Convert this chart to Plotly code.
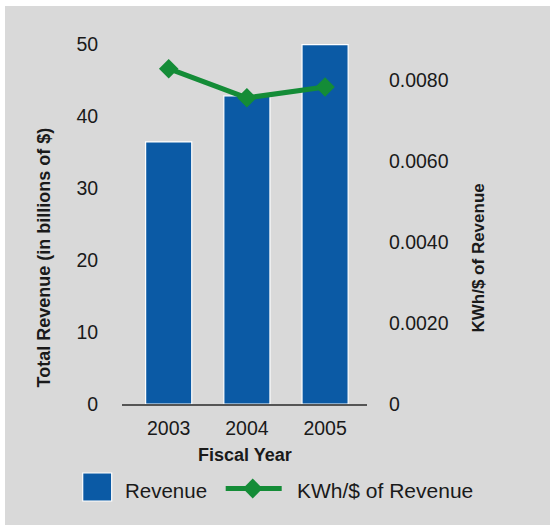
import plotly.graph_objects as go

# ---- data ----
years = ["2003", "2004", "2005"]
revenue = [36.4, 42.8, 49.9]            # billions of $
kwh_per_dollar = [0.00828, 0.00756, 0.00783]

left_ticks = [0, 10, 20, 30, 40, 50]
right_ticks = [0, 0.002, 0.004, 0.006, 0.008]
right_ticktext = ["0", "0.0020", "0.0040", "0.0060", "0.0080"]

BLUE = "#0b5aa5"
GREEN = "#148c37"
BG = "#d9d9d9"
TXT = "#1a1a1a"
FONT = "Liberation Sans, Arial, sans-serif"

W, H = 550, 527
L, R, T, B = 122, 367, 44, 404   # plot area in pixels


def px(xpix):
    return (xpix - L) / (R - L)


def py(ypix):
    return (B - ypix) / (B - T)


fig = go.Figure()
fig.add_trace(go.Bar(
    x=years, y=revenue, name="Revenue",
    marker=dict(color=BLUE, line=dict(color="white", width=1.2)),
    showlegend=False,
))
fig.add_trace(go.Scatter(
    x=years, y=kwh_per_dollar, name="KWh/$ of Revenue", yaxis="y2",
    mode="lines+markers",
    line=dict(color=GREEN, width=5),
    marker=dict(symbol="diamond", size=15, color=GREEN),
    showlegend=False,
))

shapes = [
    # grey panel
    dict(type="rect", xref="paper", yref="paper", layer="below",
         x0=px(5), x1=px(551), y0=py(525), y1=py(6),
         fillcolor=BG, line=dict(width=0)),
    # legend: revenue square
    dict(type="rect", xref="paper", yref="paper",
         x0=px(82.7), x1=px(111.7), y0=py(501), y1=py(473),
         fillcolor=BLUE, line=dict(color="white", width=1.2)),
    # legend: green line
    dict(type="line", xref="paper", yref="paper",
         x0=px(225.7), x1=px(281.7), y0=py(488.5), y1=py(488.5),
         line=dict(color=GREEN, width=5)),
    # legend: diamond
    dict(type="path", xref="paper", yref="paper",
         path="M {a},{b} L {c},{d} L {a},{e} L {f},{d} Z".format(
             a=px(252.7), b=py(478.5), c=px(262.5), d=py(488.5),
             e=py(498.5), f=px(242.9)),
         fillcolor=GREEN, line=dict(color=GREEN, width=0)),
]

annotations = [
    dict(text="<b>Total Revenue (in billions of $)</b>", textangle=-90,
         x=px(43), y=py(257.5), xref="paper", yref="paper",
         xanchor="center", yanchor="middle", showarrow=False,
         font=dict(family=FONT, size=18, color=TXT)),
    dict(text="<b>KWh/$ of Revenue</b>", textangle=-90,
         x=px(477.5), y=py(258), xref="paper", yref="paper",
         xanchor="center", yanchor="middle", showarrow=False,
         font=dict(family=FONT, size=17, color=TXT)),
    dict(text="<b>Fiscal Year</b>",
         x=px(245), y=py(455), xref="paper", yref="paper",
         xanchor="center", yanchor="middle", showarrow=False,
         font=dict(family=FONT, size=18, color=TXT)),
    dict(text="Revenue",
         x=px(123), y=py(490), xref="paper", yref="paper",
         xanchor="left", yanchor="middle", showarrow=False,
         font=dict(family=FONT, size=20.5, color=TXT)),
    dict(text="KWh/$ of Revenue",
         x=px(295), y=py(490), xref="paper", yref="paper",
         xanchor="left", yanchor="middle", showarrow=False,
         font=dict(family=FONT, size=21, color=TXT)),
]

fig.update_layout(
    width=W, height=H,
    margin=dict(l=L, r=W - R, t=T, b=H - B, pad=0),
    paper_bgcolor="white",
    plot_bgcolor="rgba(0,0,0,0)",
    bargap=0.41,
    font=dict(family=FONT, size=19.5, color=TXT),
    xaxis=dict(
        type="category", range=[-0.597, 2.536],
        showline=True, linecolor="#555555", linewidth=2,
        ticks="outside", ticklen=6, tickcolor="rgba(0,0,0,0)",
        showgrid=False, zeroline=False,
        tickfont=dict(family=FONT, size=19.5, color=TXT),
    ),
    yaxis=dict(
        range=[0, 50], tickvals=left_ticks,
        showgrid=False, zeroline=False, showline=False,
        ticks="outside", ticklen=19, tickcolor="rgba(0,0,0,0)",
        tickfont=dict(family=FONT, size=19.5, color=TXT),
    ),
    yaxis2=dict(
        range=[0, 0.00889], overlaying="y", side="right",
        tickvals=right_ticks, ticktext=right_ticktext,
        showgrid=False, zeroline=False, showline=False,
        ticks="outside", ticklen=17, tickcolor="rgba(0,0,0,0)",
        tickfont=dict(family=FONT, size=19.5, color=TXT),
    ),
    shapes=shapes,
    annotations=annotations,
    showlegend=False,
)

fig.write_html("out.html", config={"displayModeBar": False},
               post_script="document.body.style.margin='0';")
